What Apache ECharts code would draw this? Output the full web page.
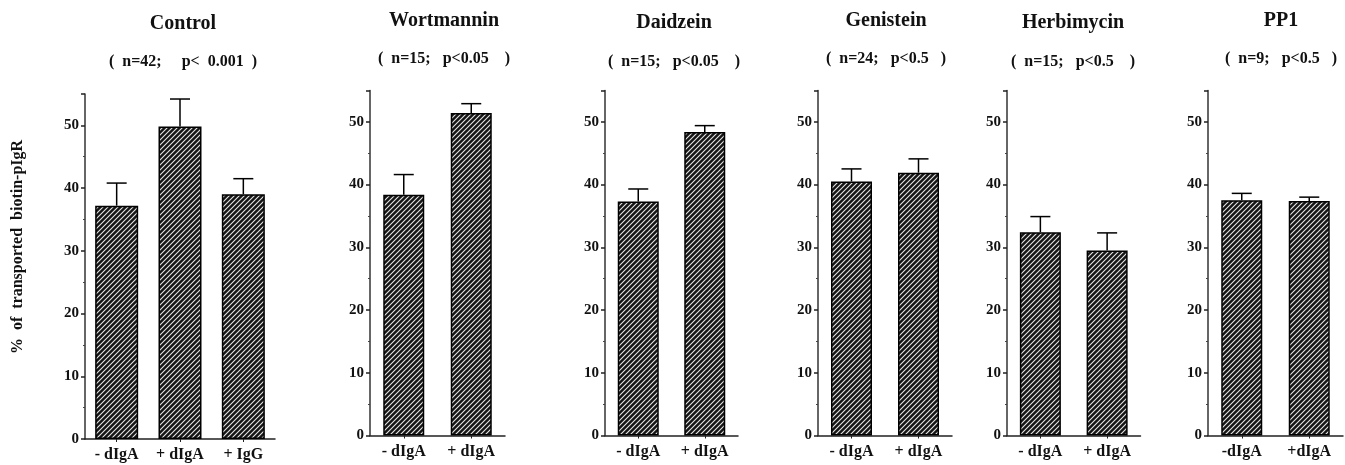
<!DOCTYPE html>
<html>
<head>
<meta charset="utf-8">
<script src="https://cdn.jsdelivr.net/npm/echarts@6/dist/echarts.min.js"></script>
<style>
  html, body { margin: 0; padding: 0; background: #fff; }
  #main { width: 1345px; height: 465px; }
</style>
</head>
<body>
<div id="main"></div>
<script>
// panel titles and stats
var panelNames = ['Control', 'Wortmannin', 'Daidzein', 'Genistein', 'Herbimycin', 'PP1'];
var panelStats = [
  '(  n=42;     p<  0.001  )',
  '(  n=15;   p<0.05    )',
  '(  n=15;   p<0.05    )',
  '(  n=24;   p<0.5   )',
  '(  n=15;   p<0.5    )',
  '(  n=9;   p<0.5   )'
];

// categories per panel
var controlCats = ['- dIgA', '+ dIgA', '+ IgG'];
var drugCats = ['- dIgA', '+ dIgA'];
var pp1Cats = ['-dIgA', '+dIgA'];

// means (% of transported biotin-pIgR) and upper error (SEM)
var controlMeans = [37.2, 49.8, 39.0];
var controlErrs = [3.6, 4.4, 2.5];
var wortMeans = [38.4, 51.4];
var wortErrs = [3.2, 1.5];
var daidMeans = [37.3, 48.4];
var daidErrs = [2.0, 1.0];
var geniMeans = [40.5, 41.9];
var geniErrs = [2.0, 2.2];
var herbMeans = [32.4, 29.5];
var herbErrs = [2.5, 2.8];
var pp1Means = [37.5, 37.4];
var pp1Errs = [1.1, 0.6];

// y axis
var yMin = 0;
var yMax = 55;
var yStep = 10;

var yName = '%  of  transported  biotin-pIgR';

var panels = [
  { cats: controlCats, means: controlMeans, errs: controlErrs },
  { cats: drugCats, means: wortMeans, errs: wortErrs },
  { cats: drugCats, means: daidMeans, errs: daidErrs },
  { cats: drugCats, means: geniMeans, errs: geniErrs },
  { cats: drugCats, means: herbMeans, errs: herbErrs },
  { cats: pp1Cats, means: pp1Means, errs: pp1Errs }
];

// layout in pixels
var gridBox = [
  { left: 85, width: 190, top: 94, bottom: 26, bw: 43, tx: 178, ty: 9, sy: 49 },
  { left: 370, width: 135, top: 90.5, bottom: 29.5, bw: 41, tx: 439, ty: 6, sy: 46 },
  { left: 605, width: 133, top: 90.5, bottom: 29.5, bw: 41, tx: 669, ty: 8, sy: 49 },
  { left: 818, width: 134, top: 90.5, bottom: 29.5, bw: 41, tx: 881, ty: 6, sy: 46 },
  { left: 1007, width: 133.5, top: 90.5, bottom: 29.5, bw: 41, tx: 1068, ty: 8, sy: 49 },
  { left: 1208, width: 135, top: 90.5, bottom: 29.5, bw: 41, tx: 1276, ty: 6, sy: 46 }
];

var FONT = '"Liberation Serif", "DejaVu Serif", serif';

// hatch pattern: dark fill with thin light diagonals
function makeHatch() {
  var c = document.createElement('canvas');
  c.width = 5; c.height = 5;
  var ctx = c.getContext('2d');
  ctx.fillStyle = '#151515';
  ctx.fillRect(0, 0, 5, 5);
  ctx.strokeStyle = '#e6e6e6';
  ctx.lineWidth = 1.1;
  ctx.beginPath();
  ctx.moveTo(-1, 6); ctx.lineTo(6, -1);
  ctx.moveTo(-1, 1); ctx.lineTo(1, -1);
  ctx.moveTo(4, 6); ctx.lineTo(6, 4);
  ctx.stroke();
  return c;
}
var hatch = makeHatch();

var myChart = echarts.init(document.getElementById('main'));

var grids = [], xAxes = [], yAxes = [], series = [], titles = [];

panels.forEach(function (p, i) {
  var g = gridBox[i];
  grids.push({ left: g.left, width: g.width, top: g.top, bottom: g.bottom });
  titles.push({
    text: panelNames[i], left: g.tx, top: g.ty, textAlign: 'center',
    textStyle: { fontFamily: FONT, fontWeight: 'bold', fontSize: 20, color: '#111' }
  });
  titles.push({
    text: panelStats[i], left: g.tx, top: g.sy, textAlign: 'center',
    textStyle: { fontFamily: FONT, fontWeight: 'bold', fontSize: 16, color: '#111' }
  });
  xAxes.push({
    type: 'category', gridIndex: i, data: p.cats,
    axisLine: { lineStyle: { color: '#222', width: 1.5 } },
    axisTick: { show: true, length: 3, alignWithLabel: true, lineStyle: { color: '#222' } },
    axisLabel: { fontFamily: FONT, fontWeight: 'bold', fontSize: 16, color: '#111', margin: 8 }
  });
  yAxes.push({
    type: 'value', gridIndex: i, min: yMin, max: yMax, interval: yStep,
    axisLine: { show: true, lineStyle: { color: '#333', width: 1.5 } },
    axisTick: { show: true, length: 4, lineStyle: { color: '#222', width: 1.5 } },
    minorTick: { show: true, splitNumber: 2, length: 2, lineStyle: { color: '#444' } },
    splitLine: { show: false },
    axisLabel: { fontFamily: FONT, fontWeight: 'bold', fontSize: 15, color: '#111', margin: 6, showMaxLabel: false }
  });
  series.push({
    type: 'bar', xAxisIndex: i, yAxisIndex: i, data: p.means,
    barWidth: g.bw,
    itemStyle: { color: { image: hatch, repeat: 'repeat' }, borderColor: '#000', borderWidth: 1.5 },
    z: 2
  });
  series.push({
    type: 'custom', xAxisIndex: i, yAxisIndex: i,
    data: p.means.map(function (m, k) { return [k, m, m + p.errs[k]]; }),
    renderItem: function (params, api) {
      var base = api.coord([api.value(0), api.value(1)]);
      var top = api.coord([api.value(0), api.value(2)]);
      var st = { stroke: '#000', lineWidth: 1.5 };
      return {
        type: 'group',
        children: [
          { type: 'line', shape: { x1: base[0], y1: base[1], x2: top[0], y2: top[1] }, style: st },
          { type: 'line', shape: { x1: top[0] - 10, y1: top[1], x2: top[0] + 10, y2: top[1] }, style: st }
        ]
      };
    },
    z: 3
  });
});

var option = {
  backgroundColor: '#fff',
  animation: false,
  title: titles,
  grid: grids,
  xAxis: xAxes,
  yAxis: yAxes,
  graphic: [{
    type: 'text', x: 18, y: 247, rotation: Math.PI / 2,
    style: {
      text: yName, align: 'center', verticalAlign: 'middle',
      font: 'bold 16px ' + FONT, fill: '#111'
    }
  }],
  series: series
};

option && myChart.setOption(option);
</script>
</body>
</html>
